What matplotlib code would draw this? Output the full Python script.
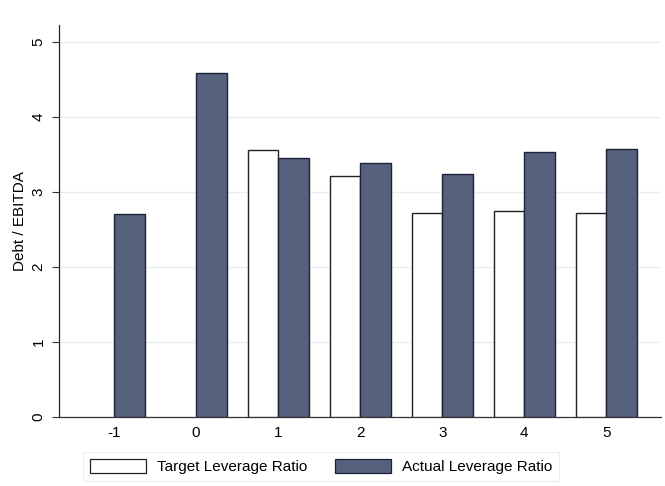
import numpy as np
import matplotlib
matplotlib.use("Agg")
import matplotlib.pyplot as plt
from matplotlib.patches import Patch

plt.rcParams['font.family'] = ['Liberation Sans', 'DejaVu Sans']

years = [-1, 0, 1, 2, 3, 4, 5]
target = [np.nan, np.nan, 3.556, 3.213, 2.72, 2.74, 2.716]
actual = [2.707, 4.582, 3.453, 3.391, 3.244, 3.529, 3.573]
series_labels = ["Target Leverage Ratio", "Actual Leverage Ratio"]
y_ticks = [0, 1, 2, 3, 4, 5]

fig = plt.figure(figsize=(6.65, 4.86), dpi=100)
fig.patch.set_facecolor('white')
ax = fig.add_axes([0.0892, 0.1426, 0.9048, 0.806])

x = np.arange(len(years))
w = 0.372
fill_actual = '#56617e'
edge_actual = '#1c2233'

ax.bar(x - w / 2, target, width=w, color='white', edgecolor='#222222', linewidth=1.0, zorder=3)
ax.bar(x + w / 2, actual, width=w, color=fill_actual, edgecolor=edge_actual, linewidth=1.0, zorder=3)

ax.set_xlim(-0.667, len(years) - 1 + 0.667)
ax.set_ylim(0, 5.227)
ax.set_xticks(x)
ax.set_xticklabels([str(v) for v in years], fontsize=11)
ax.set_yticks(y_ticks)
ax.set_yticklabels([str(v) for v in y_ticks], fontsize=11, rotation=90, va='center')
ax.tick_params(axis='x', length=0, pad=7)
ax.tick_params(axis='y', length=5, width=0.8, pad=5, color='#333333')
ax.set_ylabel("Debt / EBITDA", fontsize=11, labelpad=3)

for s in ['top', 'right']:
    ax.spines[s].set_visible(False)
ax.spines['left'].set_color('#222222')
ax.spines['bottom'].set_color('#333333')
ax.spines['left'].set_linewidth(0.9)
ax.spines['bottom'].set_linewidth(0.9)

ax.yaxis.grid(True, color='#e9eff1', linewidth=1.0, zorder=0)
ax.set_axisbelow(True)

handles = [Patch(facecolor='white', edgecolor='#222222', linewidth=0.9),
           Patch(facecolor=fill_actual, edgecolor=edge_actual, linewidth=0.9)]
leg = fig.legend(handles, series_labels, loc='center', bbox_to_anchor=(321 / 665, 1 - 466.4 / 486),
                 ncol=2, fontsize=11, frameon=True, fancybox=False, handlelength=3.67,
                 handleheight=1.09, columnspacing=1.83, handletextpad=0.7, borderpad=0.45)
leg.get_frame().set_edgecolor('#e6ecee')
leg.get_frame().set_linewidth(0.8)

fig.savefig("out.png", dpi=100, facecolor='white')
